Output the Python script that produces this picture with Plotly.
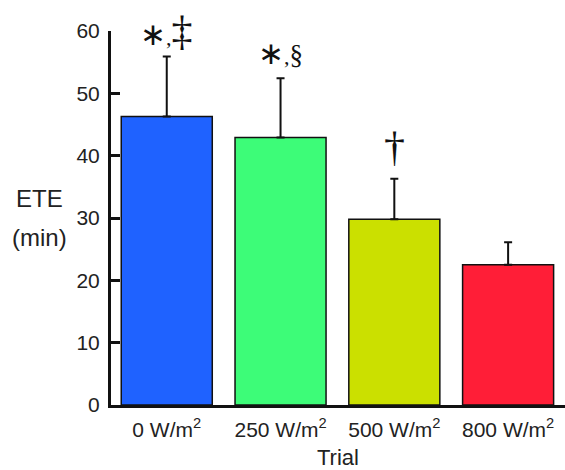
import plotly.graph_objects as go

categories = ["0 W/m<sup>2</sup>", "250 W/m<sup>2</sup>", "500 W/m<sup>2</sup>", "800 W/m<sup>2</sup>"]
ete_mean = [46.3, 42.9, 29.8, 22.5]
ete_sd = [9.6, 9.5, 6.5, 3.6]
bar_colors = ["#1f62ff", "#3dfc78", "#cbe000", "#ff1e37"]
ast = "<span style='font-size:31px'>∗</span>"
marks = [ast + ",<span style='font-size:42px'>‡</span>",
         ast + ",<span style='font-size:27px'>§</span>",
         "<span style='font-size:42px'>†</span>", ""]
mark_ypaper = [1.0, 0.94, 0.69, 0]
y_ticks = [0, 10, 20, 30, 40, 50, 60]

fig = go.Figure()
fig.add_trace(go.Bar(
    x=list(range(len(categories))), y=ete_mean,
    width=0.8,
    marker=dict(color=bar_colors, line=dict(color="#111", width=1.5)),
    error_y=dict(type="data", symmetric=False, array=ete_sd,
                 arrayminus=[0]*4, color="#111", thickness=2, width=4),
))

for i, (m, yv) in enumerate(zip(marks, mark_ypaper)):
    if m:
        fig.add_annotation(x=i, y=yv, xref="x", yref="paper", text=m, showarrow=False,
                           font=dict(family="Liberation Serif", size=22, color="#111"),
                           yanchor="middle", xanchor="center")

fig.add_annotation(x=-0.158, y=0.552, xref="paper", yref="paper", text="ETE",
                   showarrow=False, font=dict(family="Liberation Sans", size=24, color="#222"),
                   xanchor="center", yanchor="middle")
fig.add_annotation(x=-0.158, y=0.448, xref="paper", yref="paper", text="(min)",
                   showarrow=False, font=dict(family="Liberation Sans", size=24, color="#222"),
                   xanchor="center", yanchor="middle")
fig.add_annotation(x=0.5, y=-0.14, xref="paper", yref="paper", text="Trial",
                   showarrow=False, font=dict(family="Liberation Sans", size=22, color="#222"),
                   xanchor="center", yanchor="middle")

fig.update_layout(
    width=565, height=470,
    margin=dict(l=111, r=0, t=31, b=65),
    paper_bgcolor="white", plot_bgcolor="white",
    showlegend=False,
    font=dict(family="Liberation Sans", size=20, color="#222"),
    xaxis=dict(range=[-0.49, 3.5], tickvals=list(range(len(categories))), ticktext=categories,
               showline=True, linecolor="#111", linewidth=3, ticks="", showgrid=False,
               zeroline=False, tickfont=dict(size=21), ticklabelstandoff=4),
    yaxis=dict(range=[0, 60], tickvals=y_ticks, showline=True, linecolor="#111", linewidth=3,
               ticks="inside", ticklen=9, tickwidth=3, tickcolor="#111", showgrid=False,
               zeroline=False, tickfont=dict(size=21), ticklabelstandoff=4),
)

fig.write_html("out.html", config={"displayModeBar": False},
               post_script="document.body.style.margin='0';document.body.style.overflow='hidden';")
